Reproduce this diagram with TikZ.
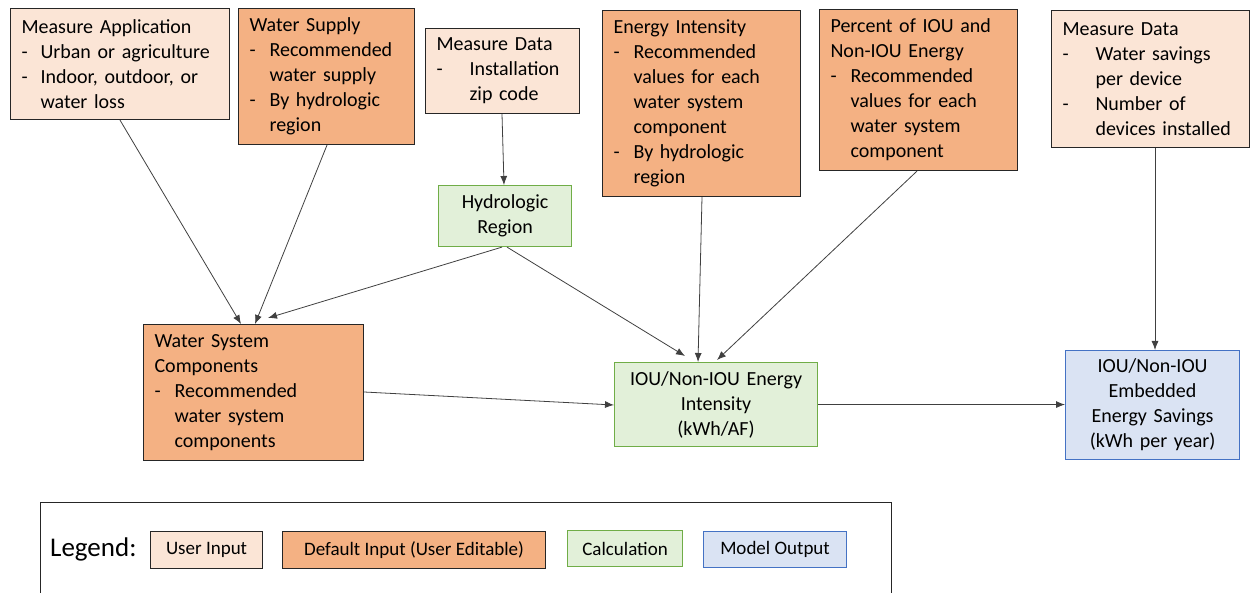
\documentclass[tikz,border=0pt]{standalone}
\usepackage{fontspec}
\setmainfont{Carlito}
\usetikzlibrary{arrows.meta,calc}
\definecolor{uicol}{HTML}{FBE5D6}
\definecolor{dicol}{HTML}{F4B183}
\definecolor{calcfill}{HTML}{E2F0D9}
\definecolor{calcdraw}{HTML}{70AD47}
\definecolor{outfill}{HTML}{DAE3F3}
\definecolor{outdraw}{HTML}{4472C4}
\newcommand{\dsh}[1]{\makebox[#1][l]{-}}
\newcommand{\ind}[1]{\hspace*{#1}}
\tikzset{
  box/.style={draw=black!85, line width=1.1pt, inner xsep=11pt, inner ysep=0pt, anchor=north west, align=left, font=\fontsize{20}{25}\selectfont},
  uibox/.style={box, fill=uicol},
  dibox/.style={box, fill=dicol},
  calcbox/.style={box, fill=calcfill, draw=calcdraw, align=center},
  outbox/.style={box, fill=outfill, draw=outdraw, align=center},
  legitem/.style={anchor=north west, inner sep=0pt, align=center, font=\fontsize{19}{22}\selectfont},
  arr/.style={-{Latex[length=9pt,width=7pt]}, draw=black!75, line width=0.8pt},
}
\begin{document}
\begin{tikzpicture}[x=1pt,y=-1pt]
\useasboundingbox (0,0) rectangle (1250,593);

\node[uibox, text width=197pt, minimum height=111pt] (ma) at (10,8) {Measure Application\\\dsh{19pt}Urban or agriculture\\\dsh{19pt}Indoor, outdoor, or\\\ind{19pt}water loss};

\node[dibox, text width=154pt, minimum height=136pt] (ws) at (238,8) {Water Supply\\\dsh{20pt}Recommended\\\ind{20pt}water supply\\\dsh{20pt}By hydrologic\\\ind{20pt}region};

\node[uibox, text width=132pt, minimum height=85pt] (mdz) at (425,28) {Measure Data\\\dsh{33pt}Installation\\\ind{33pt}zip code};

\node[calcbox, text width=111pt, minimum height=61pt] (hr) at (438,185) {Hydrologic\\Region};

\node[dibox, text width=176pt, minimum height=186pt] (ei) at (602,10) {Energy Intensity\\\dsh{20pt}Recommended\\\ind{20pt}values for each\\\ind{20pt}water system\\\ind{20pt}component\\\dsh{20pt}By hydrologic\\\ind{20pt}region};

\node[dibox, text width=176pt, minimum height=161pt] (pi) at (819,9) {Percent of IOU and\\Non-IOU Energy\\\dsh{20pt}Recommended\\\ind{20pt}values for each\\\ind{20pt}water system\\\ind{20pt}component};

\node[uibox, text width=176pt, minimum height=137pt] (mdr) at (1051,10) {Measure Data\\\dsh{33pt}Water savings\\\ind{33pt}per device\\\dsh{33pt}Number of\\\ind{33pt}devices installed};

\node[dibox, text width=198pt, minimum height=136pt] (wsc) at (143,324) {Water System\\Components\\\dsh{20pt}Recommended\\\ind{20pt}water system\\\ind{20pt}components};

\node[calcbox, text width=181pt, minimum height=84pt] (iou) at (614,362) {IOU/Non-IOU Energy\\Intensity\\(kWh/AF)};

\node[outbox, text width=152pt, minimum height=109pt] (out) at (1065,350) {IOU/Non-IOU\\Embedded\\Energy Savings\\(kWh per year)};

% connectors
\draw[arr] ($(ma.south west)+(110,0)$) -- ($(wsc.north west)+(98,0)$);
\draw[arr] ($(ws.south west)+(89,0)$) -- ($(wsc.north west)+(112,0)$);
\draw[arr] ($(hr.south west)+(64,0)$) -- ($(wsc.north west)+(125,-6)$);
\draw[arr] ($(mdz.south west)+(77,0)$) -- ($(hr.north west)+(66,0)$);
\draw[arr] ($(hr.south west)+(69,0)$) -- ($(iou.north west)+(71,-6)$);
\draw[arr] ($(ei.south west)+(100,0)$) -- ($(iou.north west)+(84,0)$);
\draw[arr] ($(pi.south west)+(98,0)$) -- ($(iou.north west)+(103,-2)$);
\draw[arr] ($(wsc.north east)+(0,68)$) -- ($(iou.north west)+(0,43)$);
\draw[arr] (iou.east) -- (iou.east -| out.west);
\draw[arr] ($(mdr.south west)+(104,0)$) -- ($(out.north west)+(90,0)$);

% legend
\node[draw=black!85, line width=1.1pt, anchor=north west, minimum width=851pt, minimum height=100pt, inner sep=0pt] (lg) at (40,502) {};
\node[anchor=west, inner sep=0pt, font=\fontsize{27}{30}\selectfont] (lgt) at (50,549) {Legend:};
\node[uibox, legitem, minimum width=112pt, minimum height=37pt] (lui) at (150,531) {User Input};
\node[dibox, legitem, minimum width=263pt, minimum height=37pt] (ldi) at (282,531) {Default Input (User Editable)};
\node[calcbox, legitem, minimum width=115pt, minimum height=36pt] (lca) at (567,530) {Calculation};
\node[outbox, legitem, minimum width=143pt, minimum height=36pt] (lmo) at (703,531) {Model Output};
\end{tikzpicture}
\end{document}
